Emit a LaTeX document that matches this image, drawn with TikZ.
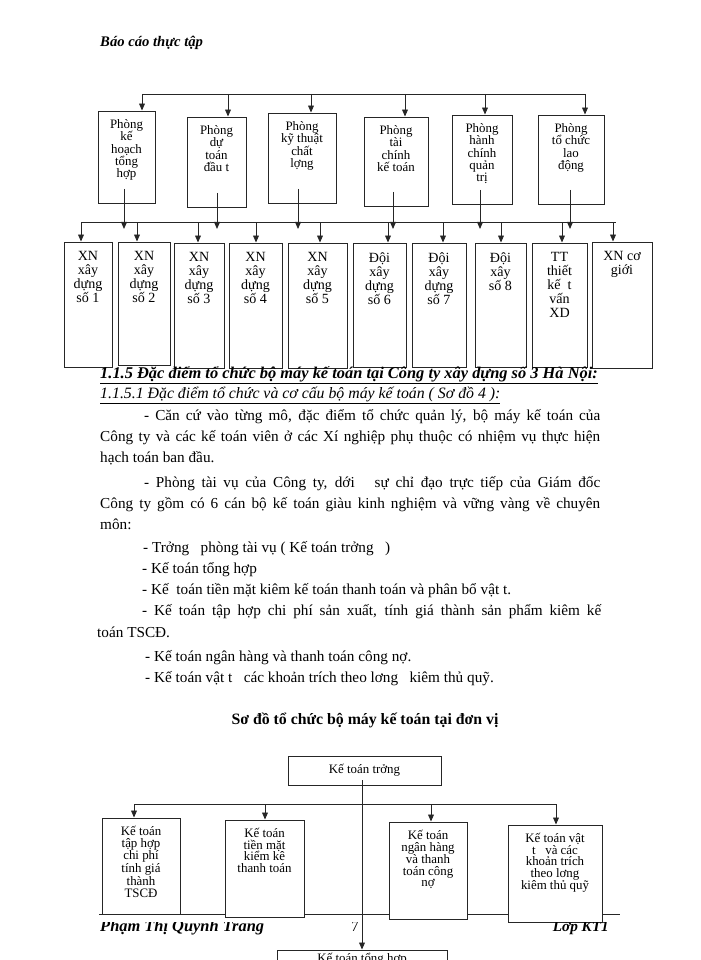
\documentclass[tikz,border=0pt]{standalone}
\usepackage{fontspec}
\setmainfont{Liberation Serif}
\usetikzlibrary{arrows.meta,fit}

\begin{document}
\begin{tikzpicture}[x=0.03cm, y=-0.03cm,
  line/.style={draw=black!85, line width=0.8pt},
  arr/.style={line, -{Triangle[length=6pt,width=5pt]}},
  box/.style={line, fill=white, inner sep=0pt},
  toptxt/.style={inner sep=0pt, align=center, font=\fontsize{11}{10.6}\selectfont},
  xntxt/.style={inner sep=0pt, align=center, font=\fontsize{12}{12}\selectfont},
  kttxt/.style={inner sep=0pt, align=center, font=\fontsize{11}{9.8}\selectfont},
  body/.style={anchor=base west, inner sep=0pt, font=\fontsize{13}{15}\selectfont},
  head/.style={anchor=base west, inner sep=0pt, font=\fontsize{14}{15}\selectfont\bfseries\itshape}]

  \useasboundingbox (0,0) rectangle (700,960);
  \clip (0,0) rectangle (700,960);

  % Page header
  \node[head, font=\fontsize{12.5}{14}\selectfont\bfseries\itshape] (hdr) at (100,47) {Báo cáo thực tập};

  % Top departments
  \coordinate (top-l) at (142,94);
  \coordinate (top-r) at (586,94);
  \coordinate (bus-b) at (0,229);
  \draw[line] (top-l) -- (top-r);
  \foreach \n/\xa/\ya/\xb/\yb/\ax/\sx/\txt in {
      pkh/98/111/155/203/142/124/{Phòng\\kế\\hoạch\\tổng\\hợp},
      pdt/187/117/246/207/228/217/{Phòng\\dự\\toán\\đầu t},
      pkt/268/113/336/203/311/298/{Phòng\\kỹ thuật\\chất\\lợng},
      ptc/364/117/428/206/405/393/{Phòng\\tài\\chính\\kế toán},
      phc/452/115/512/204/485/480/{Phòng\\hành\\chính\\quản\\trị},
      pld/538/115/604/204/585/570/{Phòng\\tổ chức\\lao\\động}} {
    \node[box, fit={(\xa,\ya) (\xb,\yb)}] (\n) {};
    \node[toptxt, anchor=north] (\n-t) at ({(\xa+\xb)/2},\ya+8) {\txt};
    \coordinate (\n-a) at (\ax,94);
    \draw[arr] (\n-a) -- (\n-a |- \n.north);
    \coordinate (\n-s) at (\sx,\yb-14);
  }

  % Second bus
  \coordinate (mid-l) at (81,222);
  \coordinate (mid-r) at (616,222);
  \draw[line] (mid-l) -- (mid-r);

  % Units
  \foreach \n/\xa/\ya/\xb/\yb/\ax/\txt in {
      xn1/64/242/112/367/81/{XN\\xây\\dựng\\số 1},
      xn2/118/242/170/365/137/{XN\\xây\\dựng\\số 2},
      xn3/174/243/224/368/198/{XN\\xây\\dựng\\số 3},
      xn4/229/243/282/368/256/{XN\\xây\\dựng\\số 4},
      xn5/288/243/347/368/320/{XN\\xây\\dựng\\số 5},
      d6/353/243/406/367/388/{Đội\\xây\\dựng\\số 6},
      d7/412/243/466/367/443/{Đội\\xây\\dựng\\số 7},
      d8/475/243/526/367/501/{Đội\\xây\\số 8},
      ttk/532/243/587/367/562/{TT\\thiết\\kế~~t\\vấn\\XD},
      xncg/592/242/652/368/613/{XN cơ\\giới}} {
    \node[box, fit={(\xa,\ya) (\xb,\yb)}] (\n) {};
    \node[xntxt, anchor=north] (\n-t) at ({(\xa+\xb)/2},\ya+9) {\txt};
    \coordinate (\n-a) at (\ax,222);
    \draw[arr] (\n-a) -- (\n-a |- \n.north);
  }

  % Stems from the departments
  \foreach \n in {pkh,pdt,pkt,ptc,phc,pld} {
    \draw[arr] (\n-s) -- (\n-s |- bus-b);
  }

  % Text
  \node[head] (h1) at (100,378) {\underline{1.1.5 Đặc điểm tổ chức bộ máy kế toán tại Công ty xây dựng số 3 Hà Nội:}};
  \node[head, font=\fontsize{13.5}{15}\selectfont\itshape] (h2) at (100,398) {\underline{1.1.5.1 Đặc điểm tổ chức và cơ cấu bộ máy kế toán ( Sơ đồ 4 ):}};
  \node[body] (p1) at (144,420) {\makebox[13.68cm][s]{- Căn cứ vào từng mô, đặc điểm tổ chức quản lý, bộ máy kế toán của}};
  \node[body] (p2) at (100,441) {\makebox[15cm][s]{Công ty và các kế toán viên ở các Xí nghiệp phụ thuộc có nhiệm vụ thực hiện}};
  \node[body] (p3) at (100,462) {hạch toán ban đầu.};
  \node[body] (p4) at (144,487) {\makebox[13.68cm][s]{- Phòng tài vụ của Công ty, dới~~ sự chỉ đạo trực tiếp của Giám đốc}};
  \node[body] (p5) at (100,508) {\makebox[15cm][s]{Công ty gồm có 6 cán bộ kế toán giàu kinh nghiệm và vững vàng về chuyên}};
  \node[body] (p6) at (100,529) {môn:};
  \node[body] (p7) at (143,552) {- Trởng~~ phòng tài vụ ( Kế toán trởng~~ )};
  \node[body] (p8) at (142,573) {- Kế toán tổng hợp};
  \node[body] (p9) at (142,594) {- Kế~ toán tiền mặt kiêm kế toán thanh toán và phân bổ vật t.};
  \node[body] (p10) at (142,615) {\makebox[13.77cm][s]{- Kế toán tập hợp chi phí sản xuất, tính giá thành sản phẩm kiêm kế}};
  \node[body] (p11) at (97,637) {toán TSCĐ.};
  \node[body] (p12) at (145,661) {- Kế toán ngân hàng và thanh toán công nợ.};
  \node[body] (p13) at (145,682) {- Kế toán vật t~~ các khoản trích theo lơng~~ kiêm thủ quỹ.};

  % Title of the second chart
  \node[inner sep=0pt, anchor=base, font=\fontsize{13.5}{15}\selectfont\bfseries] (ttl) at (365,724) {Sơ đồ tổ chức bộ máy kế toán tại đơn vị};

  % Footer line
  \coordinate (ft-l) at (99,914);
  \coordinate (ft-r) at (620,914);
  \draw[line, line width=0.6pt] (ft-l) -- (ft-r);

  % Accounting chart
  \node[box, fit={(288,756) (441,785)}] (ktt) {};
  \node[kttxt] (ktt-t) at (ktt) {Kế toán trởng};
  \coordinate (ktt-s) at (362,780);
  \node[box, fit={(277,950) (447,1010)}] (kth) {};
  \node[kttxt, anchor=north] (kth-t) at (362,953) {Kế toán tổng hợp};
  \coordinate (low-l) at (134,804);
  \coordinate (low-r) at (556,804);
  \draw[line] (low-l) -- (low-r);
  \foreach \n/\xa/\ya/\xb/\yb/\ax/\txt in {
      kta/102/818/180/914/134/{Kế toán\\tập hợp\\chi phí\\tính giá\\thành\\TSCĐ},
      ktb/225/820/304/917/265/{Kế toán\\tiền mặt\\kiểm kê\\thanh toán},
      ktc/389/822/467/919/431/{Kế toán\\ngân hàng\\và thanh\\toán công\\nợ},
      ktd/508/825/602/922/556/{Kế toán vật\\t~~ và các\\khoản trích\\theo lơng\\kiêm thủ quỹ}} {
    \node[box, fit={(\xa,\ya) (\xb,\yb)}] (\n) {};
    \node[kttxt, anchor=north] (\n-t) at ({(\xa+\xb)/2},\ya+8) {\txt};
    \coordinate (\n-a) at (\ax,804);
    \draw[arr] (\n-a) -- (\n-a |- \n.north);
  }
  \draw[arr] (ktt-s) -- (ktt-s |- kth.north);

  % Page footer
  \begin{scope}
    \clip (0,922) rectangle (700,960);
    \node[head, font=\fontsize{14}{16}\selectfont\bfseries\itshape] (ftn) at (100,931) {Phạm Thị Quỳnh Trang};
    \node[inner sep=0pt, anchor=base, font=\fontsize{13}{15}\selectfont] (ftp) at (355,931) {7};
    \node[inner sep=0pt, anchor=base east, font=\fontsize{13}{15}\selectfont\bfseries\itshape] (ftc) at (609,931) {Lớp KT1};
  \end{scope}

\end{tikzpicture}
\end{document}
